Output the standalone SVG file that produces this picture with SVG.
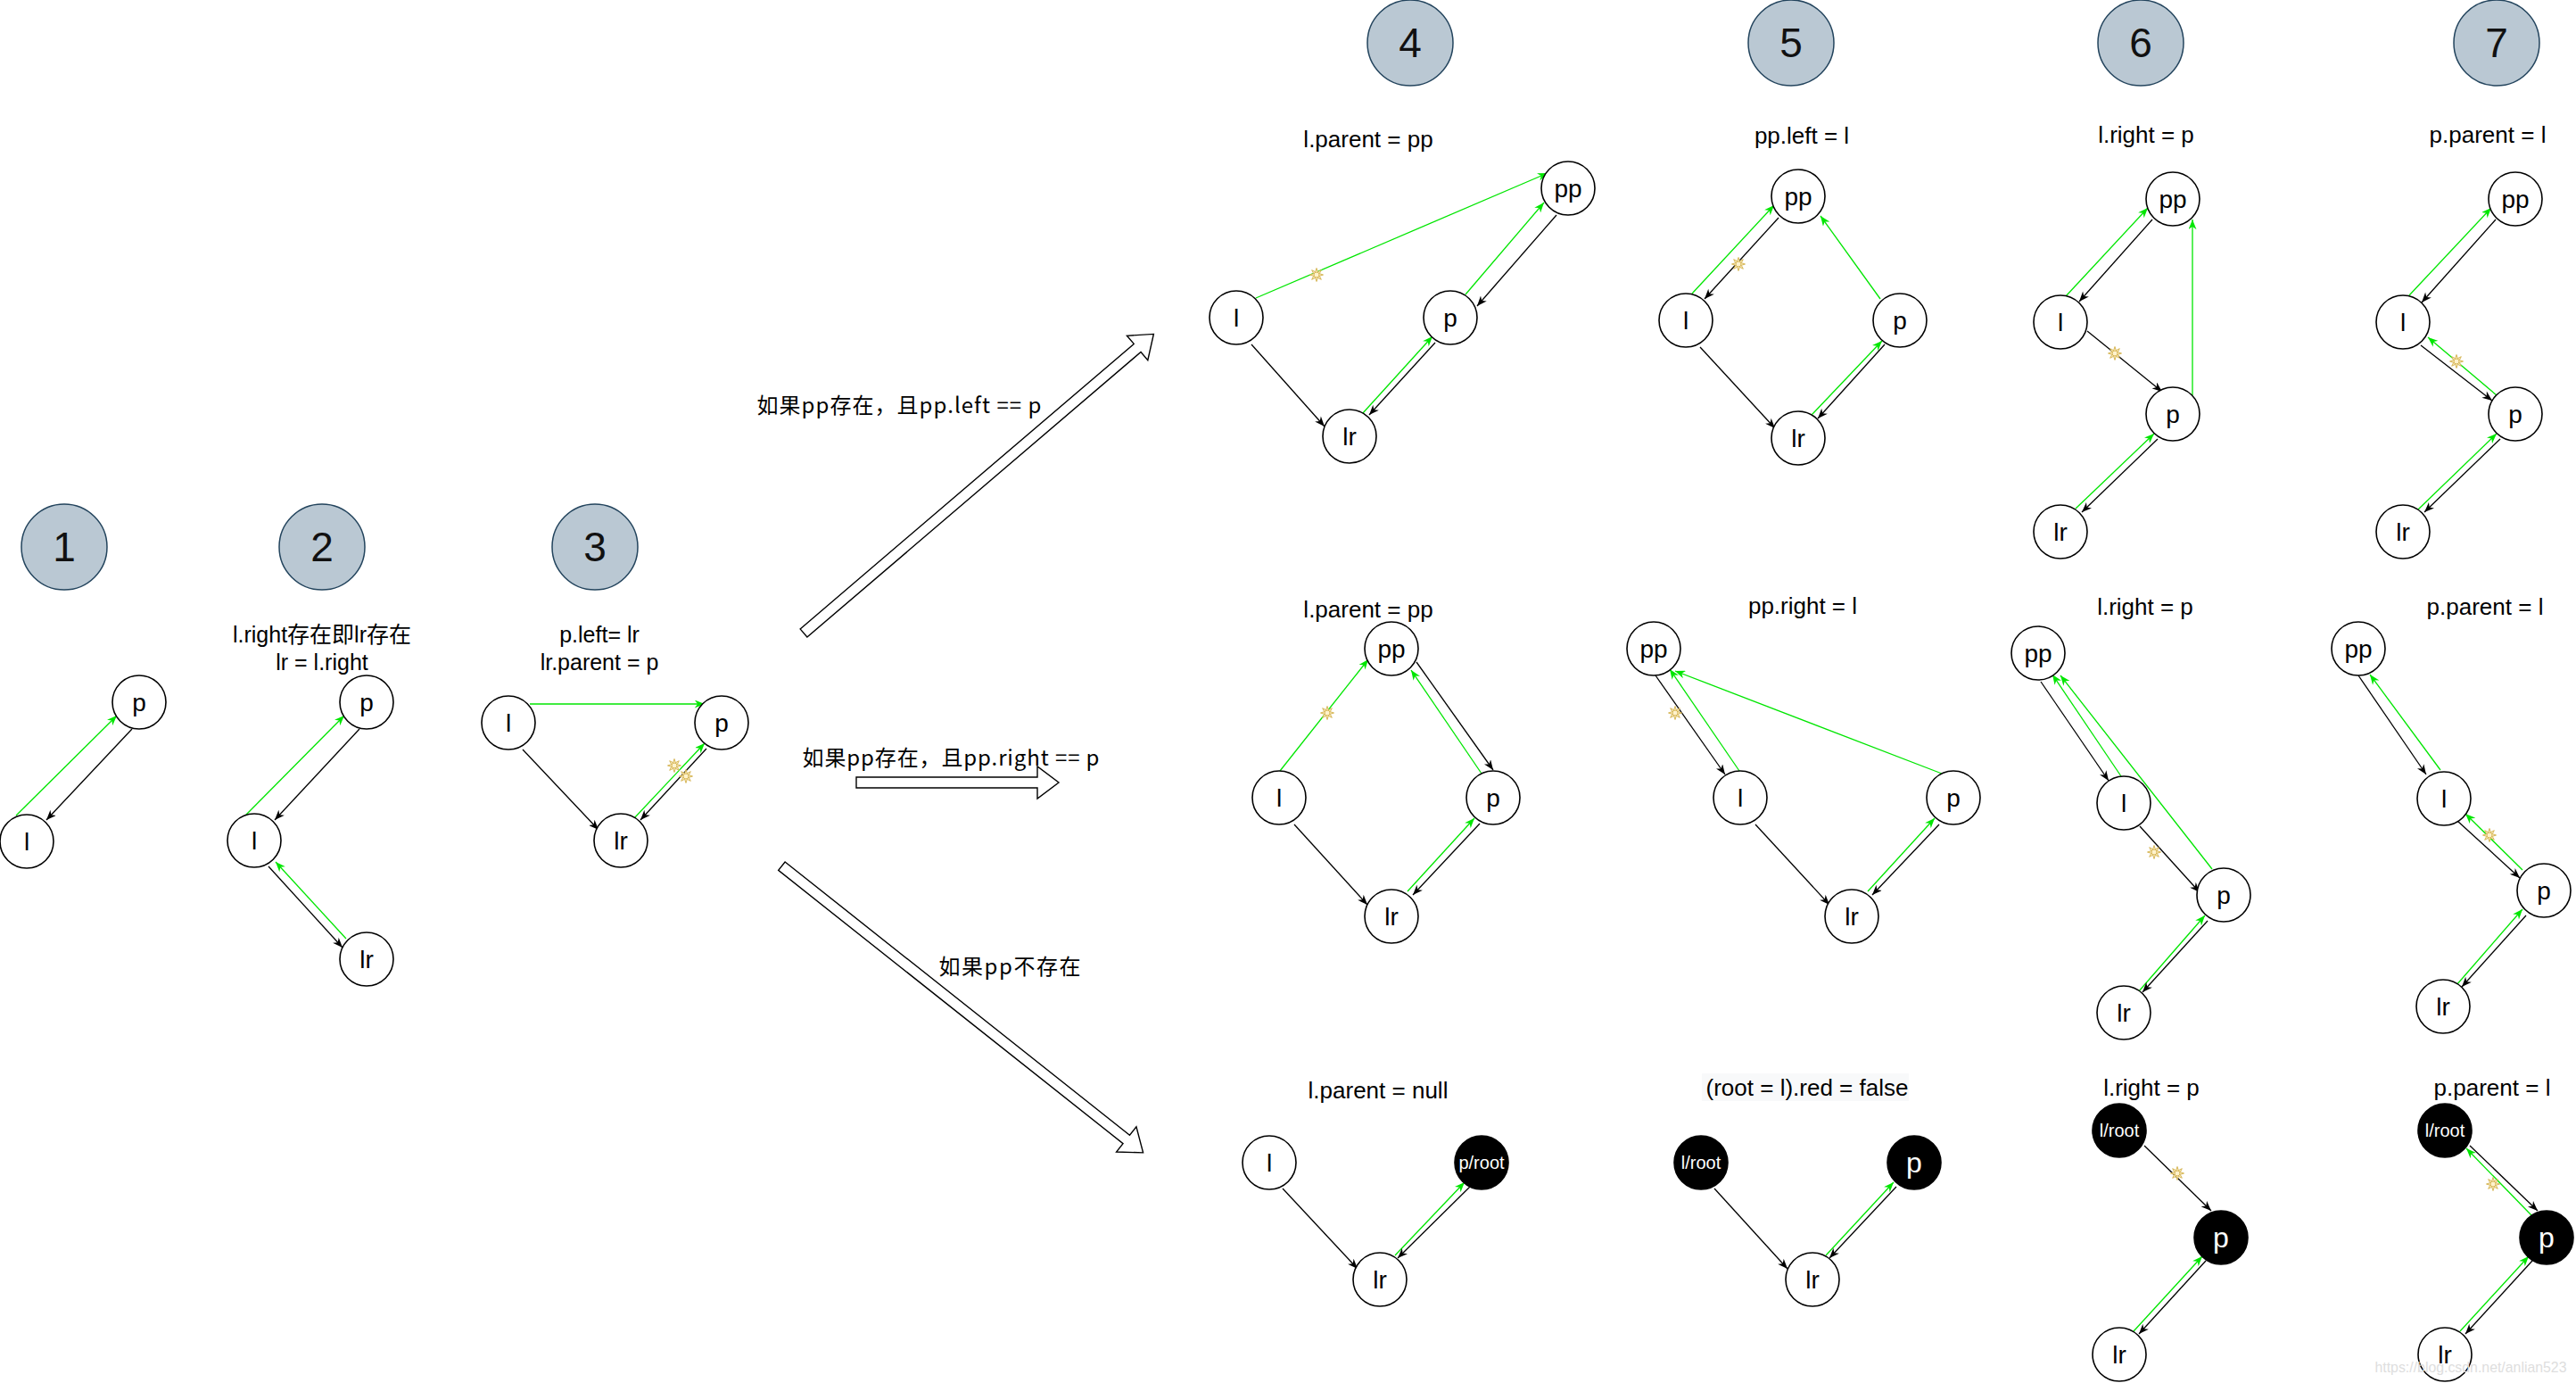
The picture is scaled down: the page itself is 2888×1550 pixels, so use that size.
<svg xmlns="http://www.w3.org/2000/svg" xmlns:xlink="http://www.w3.org/1999/xlink" width="2888" height="1550" viewBox="0 0 2888 1550">
<style>
.hd circle{fill:#bac8d3;stroke:#23445d;stroke-width:1.5}
.hd text{font-family:"Liberation Sans","Noto Sans",sans-serif;font-size:46px;fill:#111;text-anchor:middle;dominant-baseline:central}
.n circle{fill:#fff;stroke:#000;stroke-width:1.6}
.n text{font-family:"Liberation Sans",sans-serif;font-size:28px;fill:#000;text-anchor:middle;dominant-baseline:central}
.k circle{fill:#000;stroke:#000;stroke-width:1.6}
.k text{font-family:"Liberation Sans",sans-serif;font-size:20px;fill:#fff;text-anchor:middle;dominant-baseline:central}
.k text.big{font-size:32px}
.lbl{font-family:"Liberation Sans","Noto Sans CJK SC",sans-serif;font-size:26px;fill:#000;text-anchor:middle;dominant-baseline:central}
.lbl2{font-family:"Liberation Sans","Noto Sans CJK SC",sans-serif;font-size:25px;fill:#000;text-anchor:middle;dominant-baseline:central}
.cn{font-family:"Noto Sans CJK SC",sans-serif;font-size:24px;fill:#000;text-anchor:middle;dominant-baseline:central}
.b{stroke:#000;stroke-width:1.3;fill:none;marker-end:url(#ab)}
.g{stroke:#00e600;stroke-width:1.3;fill:none;marker-end:url(#ag)}
.blk{fill:#fff;stroke:#000;stroke-width:1.4}
.wm{font-family:"Liberation Sans",sans-serif;font-size:17px;fill:#dedede;text-anchor:middle;dominant-baseline:central}
</style>
<defs>
<marker id="ab" viewBox="0 0 10 8" refX="10" refY="4" markerWidth="12" markerHeight="9" markerUnits="userSpaceOnUse" orient="auto"><path d="M0,0 L10,4 L0,8 L3,4 z" fill="#000"/></marker>
<marker id="ag" viewBox="0 0 10 8" refX="10" refY="4" markerWidth="12" markerHeight="9" markerUnits="userSpaceOnUse" orient="auto"><path d="M0,0 L10,4 L0,8 L3,4 z" fill="#00e600"/></marker>
<g id="star">
<polygon points="0,-7.5 1.34,-3.23 5.3,-5.3 3.23,-1.34 7.5,0 3.23,1.34 5.3,5.3 1.34,3.23 0,7.5 -1.34,3.23 -5.3,5.3 -3.23,1.34 -7.5,0 -3.23,-1.34 -5.3,-5.3 -1.34,-3.23" fill="#fff2cc" stroke="#d6b656" stroke-width="1"/>
<circle r="3" fill="#fff2cc" stroke="#d6b656" stroke-width="1"/>
</g>
</defs>
<rect width="2888" height="1550" fill="#fff"/>

<g id="headers">
<g id="h1" class="hd"><circle cx="72" cy="613" r="48"/><text x="72" y="613">1</text></g>
<g id="h2" class="hd"><circle cx="361" cy="613" r="48"/><text x="361" y="613">2</text></g>
<g id="h3" class="hd"><circle cx="667" cy="613" r="48"/><text x="667" y="613">3</text></g>
<g id="h4" class="hd"><circle cx="1581" cy="48" r="48"/><text x="1581" y="48">4</text></g>
<g id="h5" class="hd"><circle cx="2008" cy="48" r="48"/><text x="2008" y="48">5</text></g>
<g id="h6" class="hd"><circle cx="2400" cy="48" r="48"/><text x="2400" y="48">6</text></g>
<g id="h7" class="hd"><circle cx="2799" cy="48" r="48"/><text x="2799" y="48">7</text></g>
</g>

<g id="labels">
<text class="lbl2" x="361" y="711">l.right存在即lr存在</text>
<text class="lbl2" x="361" y="742">lr = l.right</text>
<text class="lbl2" x="672" y="711">p.left= lr</text>
<text class="lbl2" x="672" y="742">lr.parent = p</text>
<text class="lbl" x="1534" y="156">l.parent = pp</text>
<text class="lbl" x="2020" y="152">pp.left = l</text>
<text class="lbl" x="2406" y="151">l.right = p</text>
<text class="lbl" x="2789" y="151">p.parent = l</text>
<text class="lbl" x="1534" y="683">l.parent = pp</text>
<text class="lbl" x="2021" y="679">pp.right = l</text>
<text class="lbl" x="2405" y="680">l.right = p</text>
<text class="lbl" x="2786" y="680">p.parent = l</text>
<text class="lbl" x="1545" y="1222">l.parent = null</text>
<rect x="1908" y="1203" width="232" height="31" fill="#f8f9fa"/>
<text class="lbl" x="2026" y="1219">(root = l).red = false</text>
<text class="lbl" x="2412" y="1219">l.right = p</text>
<text class="lbl" x="2794" y="1219">p.parent = l</text>
<text class="cn" x="1008" y="452" textLength="319" lengthAdjust="spacing">如果pp存在，且pp.left == p</text>
<text class="cn" x="1066" y="847" textLength="333" lengthAdjust="spacing">如果pp存在，且pp.right == p</text>
<text class="cn" x="1132" y="1081" textLength="159" lengthAdjust="spacing">如果pp不存在</text>
</g>

<g id="flow-arrows">
<path id="arrow-left" class="blk" transform="translate(901,709.5) rotate(-40.5)" d="M0,-6 H492 V-18 L516,0 L492,18 V6 H0 Z"/>
<path id="arrow-right" class="blk" transform="translate(960,877)" d="M0,-6 H203 V-18 L227,0 L203,18 V6 H0 Z"/>
<path id="arrow-none" class="blk" transform="translate(876.4,970.7) rotate(38.4)" d="M0,-6 H493 V-18 L517,0 L493,18 V6 H0 Z"/>
</g>

<g id="connectors">
<!-- step 1 -->
<line class="g" x1="18" y1="914" x2="131" y2="802"/>
<line class="b" x1="148" y1="817" x2="52" y2="919"/>
<!-- step 2 -->
<line class="g" x1="275" y1="914" x2="386" y2="802"/>
<line class="b" x1="403" y1="817" x2="308" y2="919"/>
<line class="b" x1="301" y1="971" x2="384" y2="1062"/>
<line class="g" x1="388" y1="1052" x2="309" y2="966"/>
<!-- step 3 -->
<line class="g" x1="594" y1="789" x2="790" y2="789"/>
<line class="b" x1="586" y1="840" x2="671" y2="930"/>
<line class="g" x1="711" y1="917" x2="790" y2="833"/>
<line class="b" x1="792" y1="839" x2="718" y2="919"/>
<use xlink:href="#star" x="756" y="858"/>
<use xlink:href="#star" x="769" y="870"/>
<!-- row1 step4 -->
<line class="g" x1="1408" y1="334" x2="1735" y2="194"/>
<line class="g" x1="1643" y1="330" x2="1731" y2="227"/>
<line class="b" x1="1745" y1="241" x2="1656" y2="343"/>
<line class="b" x1="1403" y1="386" x2="1485" y2="478"/>
<line class="g" x1="1527" y1="464" x2="1606" y2="377"/>
<line class="b" x1="1609" y1="384" x2="1535" y2="465"/>
<use xlink:href="#star" x="1476" y="308"/>
<!-- row1 step5 -->
<line class="g" x1="1897" y1="329" x2="1989" y2="230"/>
<line class="b" x1="1994" y1="244" x2="1911" y2="335"/>
<line class="g" x1="2108" y1="335" x2="2041" y2="242"/>
<line class="b" x1="1906" y1="389" x2="1990" y2="480"/>
<line class="g" x1="2031" y1="465" x2="2110" y2="382"/>
<line class="b" x1="2113" y1="386" x2="2038" y2="469"/>
<use xlink:href="#star" x="1949" y="296"/>
<!-- row1 step6 -->
<line class="g" x1="2316" y1="332" x2="2408" y2="233"/>
<line class="b" x1="2413" y1="246" x2="2331" y2="338"/>
<line class="b" x1="2340" y1="371" x2="2424" y2="439"/>
<line class="g" x1="2458" y1="443" x2="2458" y2="246"/>
<line class="g" x1="2327" y1="570" x2="2415" y2="486"/>
<line class="b" x1="2419" y1="492" x2="2334" y2="574"/>
<use xlink:href="#star" x="2371" y="396"/>
<!-- row1 step7 -->
<line class="g" x1="2701" y1="331" x2="2793" y2="233"/>
<line class="b" x1="2798" y1="246" x2="2715" y2="339"/>
<line class="b" x1="2714" y1="387" x2="2794" y2="449"/>
<line class="g" x1="2799" y1="443" x2="2722" y2="378"/>
<line class="g" x1="2711" y1="571" x2="2799" y2="486"/>
<line class="b" x1="2803" y1="492" x2="2718" y2="574"/>
<use xlink:href="#star" x="2754" y="405"/>
<!-- row2 step4 -->
<line class="g" x1="1435" y1="864" x2="1534" y2="739"/>
<line class="g" x1="1661" y1="867" x2="1582" y2="751"/>
<line class="b" x1="1588" y1="742" x2="1674" y2="863"/>
<line class="b" x1="1451" y1="924" x2="1533" y2="1014"/>
<line class="g" x1="1578" y1="999" x2="1653" y2="917"/>
<line class="b" x1="1659" y1="923" x2="1584" y2="1003"/>
<use xlink:href="#star" x="1488" y="799"/>
<!-- row2 step5 -->
<line class="b" x1="1856" y1="757" x2="1934" y2="868"/>
<line class="g" x1="1950" y1="864" x2="1872" y2="750"/>
<line class="g" x1="2177" y1="867" x2="1878" y2="752"/>
<line class="b" x1="1968" y1="924" x2="2051" y2="1014"/>
<line class="g" x1="2094" y1="999" x2="2169" y2="917"/>
<line class="b" x1="2174" y1="924" x2="2099" y2="1003"/>
<use xlink:href="#star" x="1878" y="799"/>
<!-- row2 step6 -->
<line class="b" x1="2288" y1="764" x2="2364" y2="875"/>
<line class="g" x1="2378" y1="870" x2="2301" y2="756"/>
<line class="g" x1="2480" y1="974" x2="2310" y2="757"/>
<line class="b" x1="2399" y1="926" x2="2466" y2="1000"/>
<line class="g" x1="2397" y1="1112" x2="2472" y2="1026"/>
<line class="b" x1="2475" y1="1032" x2="2402" y2="1112"/>
<use xlink:href="#star" x="2415" y="955"/>
<!-- row2 step7 -->
<line class="b" x1="2644" y1="757" x2="2720" y2="868"/>
<line class="g" x1="2736" y1="863" x2="2657" y2="756"/>
<line class="b" x1="2755" y1="920" x2="2825" y2="984"/>
<line class="g" x1="2828" y1="975" x2="2764" y2="912"/>
<line class="g" x1="2754" y1="1104" x2="2828" y2="1019"/>
<line class="b" x1="2832" y1="1026" x2="2760" y2="1106"/>
<use xlink:href="#star" x="2791" y="936"/>
<!-- row3 step4 -->
<line class="b" x1="1438" y1="1332" x2="1522" y2="1422"/>
<line class="g" x1="1564" y1="1407" x2="1642" y2="1325"/>
<line class="b" x1="1649" y1="1329" x2="1567" y2="1410"/>
<!-- row3 step5 -->
<line class="b" x1="1922" y1="1332" x2="2004" y2="1422"/>
<line class="g" x1="2047" y1="1407" x2="2123" y2="1325"/>
<line class="b" x1="2126" y1="1330" x2="2051" y2="1410"/>
<!-- row3 step6 -->
<line class="b" x1="2404" y1="1284" x2="2479" y2="1357"/>
<line class="g" x1="2392" y1="1492" x2="2469" y2="1408"/>
<line class="b" x1="2473" y1="1413" x2="2398" y2="1495"/>
<use xlink:href="#star" x="2441" y="1315"/>
<!-- row3 step7 -->
<line class="b" x1="2769" y1="1284" x2="2845" y2="1357"/>
<line class="g" x1="2838" y1="1362" x2="2765" y2="1287"/>
<line class="g" x1="2758" y1="1492" x2="2835" y2="1408"/>
<line class="b" x1="2839" y1="1413" x2="2764" y2="1495"/>
<use xlink:href="#star" x="2795" y="1327"/>
</g>

<g id="nodes">
<g id="s1-p" class="n"><circle cx="156" cy="787" r="30"/><text x="156" y="787">p</text></g>
<g id="s1-l" class="n"><circle cx="30" cy="943" r="30"/><text x="30" y="943">l</text></g>
<g id="s2-p" class="n"><circle cx="411" cy="787" r="30"/><text x="411" y="787">p</text></g>
<g id="s2-l" class="n"><circle cx="285" cy="942" r="30"/><text x="285" y="942">l</text></g>
<g id="s2-lr" class="n"><circle cx="411" cy="1075" r="30"/><text x="411" y="1075">lr</text></g>
<g id="s3-l" class="n"><circle cx="570" cy="810" r="30"/><text x="570" y="810">l</text></g>
<g id="s3-p" class="n"><circle cx="809" cy="810" r="30"/><text x="809" y="810">p</text></g>
<g id="s3-lr" class="n"><circle cx="696" cy="942" r="30"/><text x="696" y="942">lr</text></g>

<g id="r1s4-pp" class="n"><circle cx="1758" cy="211" r="30"/><text x="1758" y="211">pp</text></g>
<g id="r1s4-l" class="n"><circle cx="1386" cy="356" r="30"/><text x="1386" y="356">l</text></g>
<g id="r1s4-p" class="n"><circle cx="1626" cy="356" r="30"/><text x="1626" y="356">p</text></g>
<g id="r1s4-lr" class="n"><circle cx="1513" cy="489" r="30"/><text x="1513" y="489">lr</text></g>

<g id="r1s5-pp" class="n"><circle cx="2016" cy="220" r="30"/><text x="2016" y="220">pp</text></g>
<g id="r1s5-l" class="n"><circle cx="1890" cy="359" r="30"/><text x="1890" y="359">l</text></g>
<g id="r1s5-p" class="n"><circle cx="2130" cy="359" r="30"/><text x="2130" y="359">p</text></g>
<g id="r1s5-lr" class="n"><circle cx="2016" cy="491" r="30"/><text x="2016" y="491">lr</text></g>

<g id="r1s6-pp" class="n"><circle cx="2436" cy="223" r="30"/><text x="2436" y="223">pp</text></g>
<g id="r1s6-l" class="n"><circle cx="2310" cy="361" r="30"/><text x="2310" y="361">l</text></g>
<g id="r1s6-p" class="n"><circle cx="2436" cy="464" r="30"/><text x="2436" y="464">p</text></g>
<g id="r1s6-lr" class="n"><circle cx="2310" cy="596" r="30"/><text x="2310" y="596">lr</text></g>

<g id="r1s7-pp" class="n"><circle cx="2820" cy="223" r="30"/><text x="2820" y="223">pp</text></g>
<g id="r1s7-l" class="n"><circle cx="2694" cy="361" r="30"/><text x="2694" y="361">l</text></g>
<g id="r1s7-p" class="n"><circle cx="2820" cy="464" r="30"/><text x="2820" y="464">p</text></g>
<g id="r1s7-lr" class="n"><circle cx="2694" cy="596" r="30"/><text x="2694" y="596">lr</text></g>

<g id="r2s4-pp" class="n"><circle cx="1560" cy="727" r="30"/><text x="1560" y="727">pp</text></g>
<g id="r2s4-l" class="n"><circle cx="1434" cy="894" r="30"/><text x="1434" y="894">l</text></g>
<g id="r2s4-p" class="n"><circle cx="1674" cy="894" r="30"/><text x="1674" y="894">p</text></g>
<g id="r2s4-lr" class="n"><circle cx="1560" cy="1027" r="30"/><text x="1560" y="1027">lr</text></g>

<g id="r2s5-pp" class="n"><circle cx="1854" cy="727" r="30"/><text x="1854" y="727">pp</text></g>
<g id="r2s5-l" class="n"><circle cx="1951" cy="894" r="30"/><text x="1951" y="894">l</text></g>
<g id="r2s5-p" class="n"><circle cx="2190" cy="894" r="30"/><text x="2190" y="894">p</text></g>
<g id="r2s5-lr" class="n"><circle cx="2076" cy="1027" r="30"/><text x="2076" y="1027">lr</text></g>

<g id="r2s6-pp" class="n"><circle cx="2285" cy="732" r="30"/><text x="2285" y="732">pp</text></g>
<g id="r2s6-l" class="n"><circle cx="2381" cy="900" r="30"/><text x="2381" y="900">l</text></g>
<g id="r2s6-p" class="n"><circle cx="2493" cy="1003" r="30"/><text x="2493" y="1003">p</text></g>
<g id="r2s6-lr" class="n"><circle cx="2381" cy="1135" r="30"/><text x="2381" y="1135">lr</text></g>

<g id="r2s7-pp" class="n"><circle cx="2644" cy="727" r="30"/><text x="2644" y="727">pp</text></g>
<g id="r2s7-l" class="n"><circle cx="2740" cy="895" r="30"/><text x="2740" y="895">l</text></g>
<g id="r2s7-p" class="n"><circle cx="2852" cy="998" r="30"/><text x="2852" y="998">p</text></g>
<g id="r2s7-lr" class="n"><circle cx="2739" cy="1128" r="30"/><text x="2739" y="1128">lr</text></g>

<g id="r3s4-l" class="n"><circle cx="1423" cy="1303" r="30"/><text x="1423" y="1303">l</text></g>
<g id="r3s4-p" class="k"><circle cx="1661" cy="1303" r="30"/><text x="1661" y="1303">p/root</text></g>
<g id="r3s4-lr" class="n"><circle cx="1547" cy="1434" r="30"/><text x="1547" y="1434">lr</text></g>

<g id="r3s5-l" class="k"><circle cx="1907" cy="1303" r="30"/><text x="1907" y="1303">l/root</text></g>
<g id="r3s5-p" class="k"><circle cx="2146" cy="1303" r="30"/><text class="big" x="2146" y="1303">p</text></g>
<g id="r3s5-lr" class="n"><circle cx="2032" cy="1434" r="30"/><text x="2032" y="1434">lr</text></g>

<g id="r3s6-l" class="k"><circle cx="2376" cy="1267" r="30"/><text x="2376" y="1267">l/root</text></g>
<g id="r3s6-p" class="k"><circle cx="2490" cy="1387" r="30"/><text class="big" x="2490" y="1387">p</text></g>
<g id="r3s6-lr" class="n"><circle cx="2376" cy="1518" r="30"/><text x="2376" y="1518">lr</text></g>

<g id="r3s7-l" class="k"><circle cx="2741" cy="1267" r="30"/><text x="2741" y="1267">l/root</text></g>
<g id="r3s7-p" class="k"><circle cx="2855" cy="1387" r="30"/><text class="big" x="2855" y="1387">p</text></g>
<g id="r3s7-lr" class="n"><circle cx="2741" cy="1518" r="30"/><text x="2741" y="1518">lr</text></g>
</g>

<text class="wm" x="2770" y="1532" textLength="215" lengthAdjust="spacingAndGlyphs">https://blog.csdn.net/anlian523</text>
</svg>
